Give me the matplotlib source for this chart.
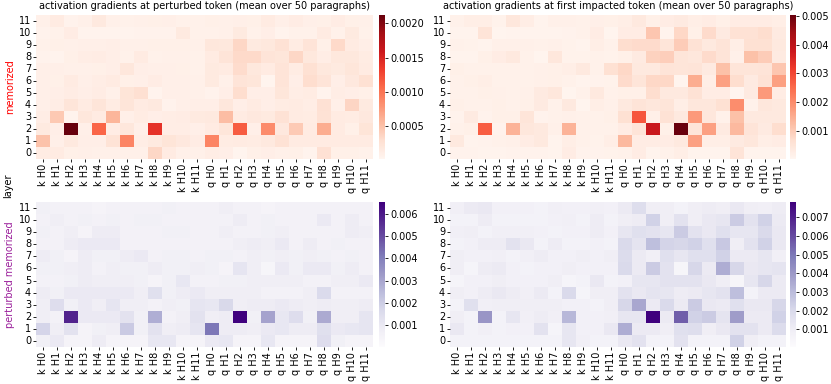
import numpy as np
import pandas as pd
import matplotlib
matplotlib.use('Agg')
import matplotlib.pyplot as plt
import seaborn as sns

# rows = layers from 11 (top) down to 0, cols = k H0..k H11, q H0..q H11
layers = list(range(11, -1, -1))
heads = ['k H%d' % i for i in range(12)] + ['q H%d' % i for i in range(12)]

# all values in units of 1e-4
mem_perturbed = [
    [0.8, 1.5, 0.6, 0.8, 1.7, 0.8, 0.7, 0.8, 0.9, 1.0, 0.7, 0.7,   0.9, 0.8, 1.0, 0.9, 1.5, 1.0, 1.3, 1.0, 0.9, 1.3, 0.9, 0.8],
    [0.6, 0.7, 1.3, 0.5, 0.5, 0.5, 0.5, 0.6, 0.6, 0.6, 1.6, 0.7,   0.7, 0.8, 1.6, 0.7, 1.1, 0.5, 0.7, 0.7, 1.5, 0.7, 1.6, 0.7],
    [0.7, 0.9, 0.8, 1.0, 1.0, 1.1, 0.8, 0.8, 0.9, 0.9, 0.9, 0.8,   2.0, 1.9, 3.5, 1.6, 1.9, 2.6, 1.4, 2.4, 0.9, 3.3, 1.5, 1.1],
    [0.6, 0.5, 0.9, 1.2, 1.3, 1.1, 0.7, 1.5, 0.7, 0.8, 0.8, 0.7,   1.5, 2.4, 3.3, 3.3, 2.4, 2.1, 3.5, 1.9, 1.2, 1.9, 1.9, 1.4],
    [1.0, 1.0, 0.8, 0.8, 0.9, 1.1, 2.0, 1.1, 1.0, 1.0, 0.9, 0.7,   1.6, 1.5, 3.1, 1.9, 1.5, 2.4, 1.4, 2.8, 1.9, 1.6, 2.1, 1.5],
    [1.0, 0.9, 1.5, 1.0, 1.2, 1.5, 0.9, 1.0, 1.3, 1.0, 1.0, 0.8,   1.6, 0.8, 2.4, 2.1, 0.4, 2.4, 1.1, 3.0, 2.4, 1.1, 1.8, 2.8],
    [1.0, 1.1, 1.3, 1.1, 1.3, 0.8, 2.3, 2.9, 0.5, 1.0, 1.0, 0.8,   0.6, 1.1, 3.0, 1.1, 1.1, 2.1, 1.2, 1.4, 0.5, 1.2, 1.1, 0.9],
    [1.0, 1.2, 2.2, 1.5, 2.2, 1.4, 2.2, 1.5, 1.7, 0.6, 1.0, 1.1,   1.1, 2.0, 1.1, 1.5, 1.1, 1.4, 1.5, 1.2, 2.7, 1.0, 3.6, 1.6],
    [1.2, 4.5, 0.5, 2.0, 1.5, 5.8, 1.0, 1.4, 1.1, 1.2, 1.3, 1.6,   1.7, 5.3, 1.5, 1.8, 1.6, 2.6, 1.5, 1.4, 2.6, 1.5, 1.4, 1.8],
    [1.6, 1.1, 21.2, 1.0, 11.0, 1.3, 2.0, 1.0, 14.0, 1.2, 1.2, 1.0, 1.5, 2.1, 11.5, 1.0, 8.5, 1.8, 4.4, 1.5, 6.4, 1.5, 0.9, 2.3],
    [5.0, 1.0, 1.7, 1.1, 1.1, 2.5, 9.0, 1.2, 1.6, 2.3, 1.8, 1.3,   9.0, 1.4, 1.5, 1.4, 1.7, 2.6, 1.5, 1.5, 1.5, 1.5, 1.5, 1.5],
    [1.4, 1.5, 0.9, 1.0, 0.8, 0.8, 0.8, 0.8, 3.5, 1.5, 0.8, 0.8,   1.2, 1.1, 0.4, 0.9, 1.1, 0.8, 0.9, 0.5, 2.7, 0.9, 0.9, 0.7],
]

mem_impacted = [
    [1.5, 2.5, 2.5, 1.3, 4.5, 2.8, 1.0, 1.8, 1.8, 1.6, 2.2, 2.0,   2.5, 4.0, 2.0, 3.0, 3.5, 2.5, 3.0, 2.0, 3.0, 3.0, 3.0, 2.5],
    [1.0, 1.0, 5.5, 0.8, 1.0, 1.0, 1.0, 1.0, 1.2, 1.5, 3.0, 0.8,   3.0, 3.0, 11.0, 1.0, 8.0, 2.0, 7.5, 3.5, 6.0, 6.0, 7.0, 3.5],
    [1.5, 1.3, 1.0, 1.8, 1.8, 1.8, 1.6, 1.8, 1.3, 0.9, 2.5, 1.5,   7.0, 7.5, 7.5, 5.0, 10.0, 6.0, 4.0, 5.5, 2.5, 6.5, 6.5, 4.0],
    [1.0, 1.0, 2.0, 3.0, 4.0, 1.5, 0.8, 4.5, 1.3, 1.3, 1.5, 1.3,   2.0, 3.5, 9.0, 9.5, 5.0, 4.5, 7.5, 5.5, 1.8, 12.0, 10.0, 3.5],
    [2.0, 1.5, 1.5, 1.5, 1.5, 1.5, 1.8, 2.0, 2.5, 4.0, 1.5, 6.5,   8.0, 4.0, 4.0, 5.5, 5.0, 5.5, 3.5, 12.0, 5.0, 5.0, 5.5, 11.0],
    [1.5, 2.0, 2.5, 1.5, 1.5, 1.5, 1.7, 2.0, 1.5, 1.0, 1.2, 1.3,   7.5, 5.0, 8.0, 8.0, 0.8, 15.0, 2.5, 17.0, 7.0, 3.5, 6.0, 17.0],
    [1.5, 1.5, 2.0, 1.8, 1.5, 1.8, 3.5, 4.5, 0.8, 1.5, 4.0, 1.5,   2.0, 2.0, 7.0, 4.0, 4.0, 6.0, 3.0, 3.0, 0.5, 3.5, 18.0, 3.0],
    [2.0, 1.5, 1.5, 2.0, 1.5, 2.0, 3.5, 1.5, 4.0, 0.8, 2.5, 1.8,   4.0, 5.5, 4.5, 5.0, 2.5, 4.5, 4.5, 6.5, 20.0, 1.5, 4.5, 4.0],
    [1.2, 3.5, 1.2, 2.0, 2.0, 5.0, 1.2, 1.5, 1.8, 1.5, 1.5, 2.0,   6.5, 28.0, 2.0, 6.0, 4.0, 18.0, 4.5, 1.5, 12.0, 4.0, 4.0, 4.0],
    [1.5, 2.0, 27.0, 1.2, 14.0, 4.5, 4.0, 1.8, 14.0, 1.5, 1.5, 1.5, 3.0, 5.5, 38.0, 2.0, 50.0, 5.0, 17.0, 3.5, 13.0, 5.5, 3.5, 7.0],
    [4.0, 1.0, 1.2, 1.5, 1.8, 3.0, 4.0, 1.0, 2.5, 1.5, 1.3, 2.5,   13.0, 3.0, 3.0, 3.0, 4.0, 17.0, 2.5, 2.5, 3.5, 4.5, 2.5, 3.0],
    [1.2, 1.2, 1.0, 1.0, 1.2, 1.2, 1.2, 1.0, 3.0, 1.2, 1.2, 1.3,   1.5, 3.0, 1.0, 1.5, 2.5, 1.0, 1.0, 1.0, 5.5, 1.0, 1.0, 1.0],
]

pert_perturbed = [
    [7, 6, 6, 6, 5, 6, 6, 6, 6, 7, 6, 6,          6, 8, 6, 6, 5, 6, 6, 6, 6, 6, 6, 6],
    [6, 8, 6, 7, 6, 7, 6, 7, 7, 6, 6, 6,          6, 6, 9, 6, 7, 6, 6, 6, 10, 6, 9, 6],
    [7, 6, 8, 5, 9, 9, 6, 6, 6, 7, 7, 6,          6, 8, 6, 6, 7, 8, 6, 6, 6, 6, 9, 8],
    [6, 6, 9, 10, 10, 10, 6, 6, 6, 6, 6, 6,       6, 6, 8, 9, 8, 10, 6, 9, 6, 7, 6, 6],
    [9, 7, 5, 9, 7, 7, 9, 10, 6, 7, 7, 6,         7, 7, 6, 8, 7, 8, 7, 8, 7, 6, 7, 6],
    [7, 7, 8, 9, 6, 8, 7, 7, 9, 7, 7, 8,          7, 5, 12, 8, 4, 10, 7, 10, 10, 7, 9, 6],
    [6, 6, 7, 9, 8, 8, 8, 7, 5, 7, 11, 6,         6, 7, 7, 8, 8, 8, 8, 6, 6, 8, 8, 10],
    [9, 7, 10, 10, 10, 10, 10, 8, 14, 7, 9, 10,   8, 8, 8, 8, 6, 6, 6, 8, 16, 6, 6, 6],
    [8, 15, 7, 10, 8, 12, 8, 8, 6, 8, 7, 12,      11, 17, 8, 9, 9, 10, 9, 8, 9, 8, 8, 9],
    [8, 6, 58, 10, 10, 10, 13, 7, 28, 6, 8, 13,   8, 9, 65, 7, 31, 11, 15, 7, 29, 8, 8, 12],
    [18, 8, 13, 5, 7, 8, 21, 7, 13, 8, 9, 12,     42, 9, 9, 8, 10, 11, 9, 9, 14, 10, 11, 12],
    [7, 10, 5, 5, 9, 5, 5, 5, 11, 11, 5, 5,       10, 11, 5, 5, 11, 5, 5, 5, 15, 7, 5, 5],
]

pert_impacted = [
    [9, 12, 13, 8, 8, 8, 7, 9, 8, 8, 9, 8,        12, 18, 10, 10, 7, 10, 11, 10, 13, 10, 9, 11],
    [7, 7, 11, 7, 7, 7, 7, 8, 9, 7, 11, 7,        10, 11, 23, 10, 16, 10, 13, 14, 25, 16, 23, 12],
    [9, 10, 7, 9, 9, 9, 8, 7, 8, 8, 11, 8,        14, 17, 16, 14, 25, 16, 13, 17, 14, 14, 20, 13],
    [7, 8, 11, 11, 16, 13, 7, 11, 7, 7, 8, 7,     20, 15, 29, 22, 21, 23, 17, 26, 10, 16, 23, 13],
    [10, 8, 8, 9, 7, 9, 11, 8, 8, 10, 8, 10,      19, 12, 9, 17, 14, 17, 17, 23, 12, 12, 14, 9],
    [10, 6, 11, 12, 8, 7, 8, 8, 10, 8, 8, 8,      20, 12, 25, 16, 5, 21, 12, 34, 21, 13, 14, 15],
    [6, 8, 8, 10, 8, 8, 8, 10, 6, 7, 13, 7,       8, 14, 14, 16, 16, 16, 13, 10, 5, 14, 21, 12],
    [10, 8, 11, 13, 11, 9, 12, 7, 20, 6, 10, 10,  16, 13, 15, 14, 11, 12, 14, 16, 29, 7, 12, 12],
    [7, 17, 9, 10, 10, 10, 10, 10, 8, 8, 7, 10,   21, 36, 12, 20, 12, 25, 13, 12, 17, 13, 13, 21],
    [10, 7, 41, 7, 14, 9, 11, 9, 31, 8, 8, 9,     14, 14, 78, 12, 56, 23, 25, 15, 39, 12, 12, 23],
    [13, 7, 9, 7, 8, 8, 16, 6, 14, 8, 8, 13,      34, 12, 12, 10, 17, 18, 10, 13, 16, 16, 12, 19],
    [7, 7, 7, 7, 7, 7, 7, 7, 14, 9, 7, 7,         13, 16, 7, 7, 16, 7, 7, 7, 23, 10, 7, 7],
]

unit = 1e-4

fig = plt.figure(figsize=(8.31, 3.84), dpi=100)

W, H = 831, 384
def box(x0, y0, x1, y1):
    return [x0 / W, 1 - y1 / H, (x1 - x0) / W, (y1 - y0) / H]

panels = [
    # data, cmap, vmin, vmax, colorbar ticks, tick format, heatmap box, colorbar box
    (mem_perturbed, 'Reds', 0.2, 21.2, [0.0005, 0.0010, 0.0015, 0.0020], '%.4f',
     box(36, 15, 373, 159), box(379, 15, 385, 159)),
    (mem_impacted, 'Reds', 0.3, 50.3, [0.001, 0.002, 0.003, 0.004, 0.005], '%.3f',
     box(450, 15, 786, 159), box(790, 15, 796, 159)),
    (pert_perturbed, 'Purples', 0.2, 65.4, [0.001, 0.002, 0.003, 0.004, 0.005, 0.006], '%.3f',
     box(36, 202, 373, 347), box(379, 202, 385, 347)),
    (pert_impacted, 'Purples', 0.6, 78.3, [0.001, 0.002, 0.003, 0.004, 0.005, 0.006, 0.007], '%.3f',
     box(450, 202, 786, 347), box(790, 202, 796, 347)),
]

fs = 7
axes = []
for data, cmap, lo, hi, cticks, cfmt, pos, cpos in panels:
    ax = fig.add_axes(pos)
    cax = fig.add_axes(cpos)
    df = pd.DataFrame(np.array(data) * unit, index=layers, columns=heads)
    sns.heatmap(df, ax=ax, cbar_ax=cax, cmap=cmap, vmin=lo * unit, vmax=hi * unit,
                cbar_kws={'ticks': cticks, 'format': cfmt})
    ax.set_xticks(np.arange(24) + 0.5)
    ax.set_xticklabels(heads, rotation=90, fontsize=fs)
    ax.set_yticks(np.arange(12) + 0.5)
    ax.set_yticklabels(layers, rotation=0, fontsize=fs)
    ax.tick_params(length=2, width=0.6, pad=1.5)
    cax.tick_params(labelsize=fs, length=2.5, width=0.6, pad=1.5)
    axes.append(ax)

axes[0].set_title('activation gradients at perturbed token (mean over 50 paragraphs)', fontsize=fs, pad=4)
axes[1].set_title('activation gradients at first impacted token (mean over 50 paragraphs)', fontsize=fs, pad=4)

axes[0].set_ylabel('memorized', color='red', fontsize=fs, labelpad=3)
axes[2].set_ylabel('perturbed memorized', color='#9b1f9b', fontsize=fs, labelpad=3)

fig.text(8 / W, 1 - 186 / H, 'layer', rotation=90, fontsize=fs, ha='center', va='center')

fig.savefig('out.png', dpi=100)
